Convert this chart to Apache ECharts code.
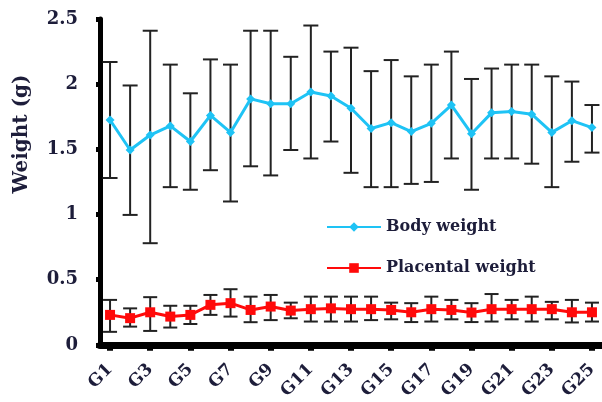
<!DOCTYPE html>
<html>
<head>
<meta charset="utf-8">
<script src="https://cdn.jsdelivr.net/npm/echarts@6/dist/echarts.min.js"></script>
<style>
html,body{margin:0;padding:0;background:#fff;}
#c{width:602px;height:402px;}
</style>
</head>
<body>
<div id="c"></div>
<script>
var categories = ['G1','G2','G3','G4','G5','G6','G7','G8','G9','G10','G11','G12','G13','G14','G15','G16','G17','G18','G19','G20','G21','G22','G23','G24','G25'];
var bodyMean  = [1.725,1.495,1.61,1.68,1.56,1.76,1.63,1.887,1.85,1.85,1.94,1.91,1.815,1.66,1.705,1.636,1.70,1.84,1.62,1.78,1.79,1.77,1.63,1.72,1.667];
var bodyHigh  = [2.17,1.99,2.41,2.15,1.93,2.19,2.15,2.41,2.41,2.21,2.45,2.25,2.28,2.10,2.185,2.06,2.15,2.25,2.04,2.12,2.15,2.15,2.06,2.02,1.84];
var bodyLow   = [1.28,0.997,0.78,1.21,1.19,1.34,1.10,1.37,1.30,1.495,1.43,1.56,1.32,1.21,1.21,1.235,1.25,1.43,1.19,1.43,1.43,1.39,1.21,1.405,1.475];
var placMean  = [0.23,0.205,0.25,0.217,0.23,0.307,0.32,0.268,0.294,0.263,0.274,0.28,0.274,0.274,0.268,0.25,0.274,0.268,0.248,0.274,0.274,0.274,0.274,0.25,0.25];
var placHigh  = [0.345,0.28,0.366,0.30,0.30,0.383,0.427,0.37,0.383,0.324,0.37,0.37,0.37,0.37,0.324,0.32,0.37,0.345,0.32,0.39,0.345,0.37,0.33,0.345,0.324];
var placLow   = [0.10,0.14,0.107,0.133,0.16,0.23,0.217,0.174,0.19,0.204,0.179,0.179,0.179,0.19,0.196,0.175,0.179,0.196,0.175,0.179,0.196,0.179,0.196,0.172,0.179];
var yTicks = [0, 0.5, 1, 1.5, 2, 2.5];
var seriesNames = ['Body weight', 'Placental weight'];
var yTitle = 'Weight (g)';

var textColor = '#1d1d3a';
var serif = '"DejaVu Serif", "Liberation Serif", serif';

function errData(lo, hi){
  return lo.map(function(v, i){ return [i, v, hi[i]]; });
}
function errRender(capW, color){
  return function(params, api){
    var x = api.value(0);
    var pLo = api.coord([x, api.value(1)]);
    var pHi = api.coord([x, api.value(2)]);
    var h = capW / 2;
    var st = {stroke: color, lineWidth: 2};
    return {type: 'group', children: [
      {type: 'line', shape: {x1: pLo[0], y1: pLo[1], x2: pHi[0], y2: pHi[1]}, style: st},
      {type: 'line', shape: {x1: pLo[0]-h, y1: pLo[1], x2: pLo[0]+h, y2: pLo[1]}, style: st},
      {type: 'line', shape: {x1: pHi[0]-h, y1: pHi[1], x2: pHi[0]+h, y2: pHi[1]}, style: st}
    ]};
  };
}

var chart = echarts.init(document.getElementById('c'), null, {renderer: 'canvas'});
chart.setOption({
  animation: false,
  backgroundColor: '#fff',
  grid: {left: 100, right: 0, top: 19, bottom: 57, containLabel: false},
  legend: {
    data: seriesNames,
    orient: 'vertical',
    left: 321, top: 214,
    itemWidth: 54, itemHeight: 12, itemGap: 25,
    textStyle: {fontFamily: serif, fontWeight: 'bold', fontSize: 16, color: textColor}
  },
  xAxis: {
    type: 'category',
    data: categories,
    boundaryGap: true,
    axisLine: {lineStyle: {color: '#000', width: 7}},
    axisTick: {show: true, alignWithLabel: true, length: 6, lineStyle: {color: '#000', width: 6}},
    axisLabel: {interval: 1, rotate: 45, margin: 22, fontFamily: serif, fontWeight: 'bold', fontSize: 17, color: textColor},
    splitLine: {show: false}
  },
  yAxis: {
    type: 'value',
    min: yTicks[0], max: yTicks[yTicks.length-1], interval: 0.5,
    axisLine: {show: true, lineStyle: {color: '#000', width: 5}},
    axisTick: {show: true, length: 4, lineStyle: {color: '#000', width: 5}},
    axisLabel: {margin: 22, fontFamily: serif, fontWeight: 'bold', fontSize: 18, color: textColor},
    splitLine: {show: false}
  },
  graphic: [{
    type: 'text',
    x: 22, y: 134,
    rotation: Math.PI / 2,
    style: {text: yTitle, fontFamily: serif, fontWeight: 'bold', fontSize: 20, fill: textColor, align: 'center', verticalAlign: 'middle'}
  }],
  series: [
    {
      name: 'bodyErr', type: 'custom', z: 1,
      renderItem: errRender(15, '#222'),
      encode: {x: 0, y: [1, 2]},
      data: errData(bodyLow, bodyHigh)
    },
    {
      name: 'placErr', type: 'custom', z: 1,
      renderItem: errRender(14, '#222'),
      encode: {x: 0, y: [1, 2]},
      data: errData(placLow, placHigh)
    },
    {
      name: seriesNames[0], type: 'line', z: 3,
      data: bodyMean,
      symbol: 'diamond', symbolSize: 9,
      lineStyle: {color: '#1ec3f5', width: 3},
      itemStyle: {color: '#1ec3f5'}
    },
    {
      name: seriesNames[1], type: 'line', z: 3,
      data: placMean,
      symbol: 'rect', symbolSize: 10,
      lineStyle: {color: '#ff0a0a', width: 3},
      itemStyle: {color: '#ff0a0a'}
    }
  ]
});
</script>
</body>
</html>
